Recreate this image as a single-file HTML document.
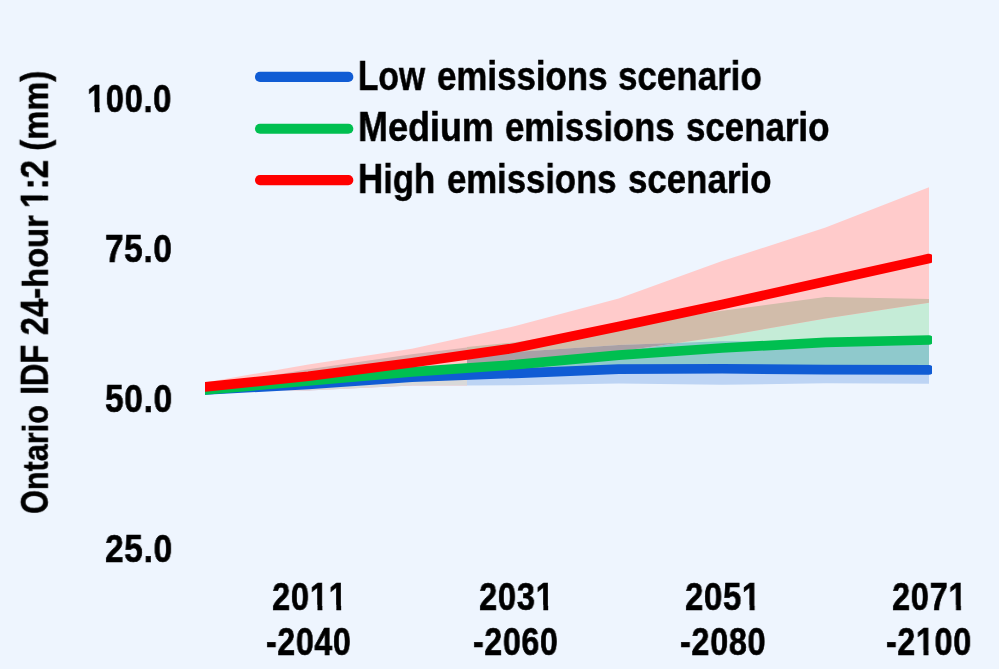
<!DOCTYPE html>
<html><head><meta charset="utf-8"><style>
html,body{margin:0;padding:0;}
body{width:999px;height:669px;overflow:hidden;position:relative;background:#eef5fe;}
.t{position:absolute;font-family:"Liberation Sans",sans-serif;font-weight:bold;line-height:1;white-space:pre;color:#000;transform-origin:0 0;will-change:transform;}
.lc{display:inline-block;transform:scaleY(0.95);transform-origin:0 84.65%;}
.v .lc{transform:scaleY(0.93);}
.one{display:inline-block;height:1em;vertical-align:top;clip-path:polygon(0 0,100% 0,100% 70.5%,67% 70.5%,67% 100%,41% 100%,41% 70.5%,0 70.5%);}
</style></head><body>
<svg width="999" height="669" viewBox="0 0 999 669" style="position:absolute;left:0;top:0">
<defs>
<clipPath id="cg"><polygon points="205.00,389.50 308.43,380.50 411.86,371.40 467.00,367.56 467.01,347.00 515.29,342.30 618.71,326.00 722.14,310.70 825.57,297.10 929.00,299.10 929.00,369.90 825.57,369.70 722.14,368.75 618.71,369.10 515.29,373.30 411.86,380.00 308.43,386.00 205.00,390.00"/></clipPath>
<clipPath id="cb"><polygon points="205.00,391.00 308.43,382.00 411.86,372.90 467.00,369.06 467.01,356.00 515.29,352.00 618.71,344.90 722.14,341.30 825.57,342.00 929.00,340.00 929.00,383.80 825.57,383.30 722.14,384.80 618.71,383.60 515.29,385.30 467.00,385.39 411.86,385.50 308.43,390.60 205.00,390.00"/></clipPath>
<clipPath id="pa"><rect x="205" y="0" width="727" height="669"/></clipPath>
</defs>
<polygon points="205.00,391.00 308.43,382.00 411.86,372.90 467.00,369.06 467.01,356.00 515.29,352.00 618.71,344.90 722.14,341.30 825.57,342.00 929.00,340.00 929.00,383.80 825.57,383.30 722.14,384.80 618.71,383.60 515.29,385.30 467.00,385.39 411.86,385.50 308.43,390.60 205.00,390.00" fill="#bdd4f4"/>
<polygon points="205.00,389.50 308.43,380.50 411.86,371.40 467.00,367.56 467.01,347.00 515.29,342.30 618.71,326.00 722.14,310.70 825.57,297.10 929.00,299.10 929.00,369.90 825.57,369.70 722.14,368.75 618.71,369.10 515.29,373.30 411.86,380.00 308.43,386.00 205.00,390.00" fill="#c5ecd7"/>
<g clip-path="url(#cb)"><polygon points="205.00,389.50 308.43,380.50 411.86,371.40 467.00,367.56 467.01,347.00 515.29,342.30 618.71,326.00 722.14,310.70 825.57,297.10 929.00,299.10 929.00,369.90 825.57,369.70 722.14,368.75 618.71,369.10 515.29,373.30 411.86,380.00 308.43,386.00 205.00,390.00" fill="#8fc9cc"/></g>
<polygon points="205.00,382.50 308.43,364.50 411.86,348.80 515.29,326.10 618.71,298.40 722.14,261.10 825.57,227.60 929.00,187.20 929.00,302.80 825.57,318.40 722.14,336.60 618.71,351.50 515.29,372.60 467.01,376.62 467.00,385.39 411.86,385.50 308.43,390.60 205.00,390.00" fill="#ffcbcb"/>
<g clip-path="url(#cg)"><polygon points="205.00,382.50 308.43,364.50 411.86,348.80 515.29,326.10 618.71,298.40 722.14,261.10 825.57,227.60 929.00,187.20 929.00,302.80 825.57,318.40 722.14,336.60 618.71,351.50 515.29,372.60 467.01,376.62 467.00,385.39 411.86,385.50 308.43,390.60 205.00,390.00" fill="#d1bcaa"/></g>
<g clip-path="url(#cb)"><polygon points="205.00,382.50 308.43,364.50 411.86,348.80 515.29,326.10 618.71,298.40 722.14,261.10 825.57,227.60 929.00,187.20 929.00,302.80 825.57,318.40 722.14,336.60 618.71,351.50 515.29,372.60 467.01,376.62 467.00,385.39 411.86,385.50 308.43,390.60 205.00,390.00" fill="#d9d9d9"/></g>
<g clip-path="url(#cg)"><g clip-path="url(#cb)"><polygon points="205.00,382.50 308.43,364.50 411.86,348.80 515.29,326.10 618.71,298.40 722.14,261.10 825.57,227.60 929.00,187.20 929.00,302.80 825.57,318.40 722.14,336.60 618.71,351.50 515.29,372.60 467.01,376.62 467.00,385.39 411.86,385.50 308.43,390.60 205.00,390.00" fill="#a8a0a6"/></g></g>
<polygon points="205.00,387.00 308.43,369.20 411.86,354.30 467.00,347.50 467.00,354.89 411.86,362.75 308.43,376.20 205.00,387.00" fill="#d9b2b0"/>
<g clip-path="url(#pa)" fill="none" stroke-width="9.7" stroke-linejoin="round" stroke-linecap="round">
<polyline points="205.00,390.00 308.43,384.30 411.86,377.25 515.29,373.30 618.71,369.10 722.14,368.75 825.57,369.70 929.00,369.90" stroke="#105cd4"/>
<polyline points="205.00,390.00 308.43,381.00 411.86,371.90 515.29,364.70 618.71,355.20 722.14,348.00 825.57,342.30 929.00,340.00" stroke="#00bf50"/>
<path d="M205.00,387.00 L308.43,376.20 L411.86,362.75 L507.29,349.14 Q515.29,348.00 523.29,346.34 L618.71,326.50 L722.14,304.40 L825.57,281.60 L929.00,258.60" stroke="#ff0000"/>
</g>
<g stroke-width="10.1" stroke-linecap="round">
<line x1="260" y1="76.9" x2="348.3" y2="76.9" stroke="#105cd4"/>
<line x1="260" y1="128.8" x2="348.3" y2="128.8" stroke="#00bf50"/>
<line x1="260" y1="180.1" x2="348.3" y2="180.1" stroke="#ff0000"/>
</g>
</svg>
<div class="t" style="font-size:42.75px;letter-spacing:0px;-webkit-text-stroke:0.5px #000;left:358.05px;top:53.81px;transform:scaleX(0.7843);">L<span class="lc">ow</span></div>
<div class="t" style="font-size:42.75px;letter-spacing:0px;-webkit-text-stroke:0.5px #000;left:437.28px;top:53.81px;transform:scaleX(0.8155);"><span class="lc">emissions</span></div>
<div class="t" style="font-size:42.75px;letter-spacing:0px;-webkit-text-stroke:0.5px #000;left:618.18px;top:53.81px;transform:scaleX(0.8179);"><span class="lc">scenario</span></div>
<div class="t" style="font-size:42.75px;letter-spacing:0px;-webkit-text-stroke:0.5px #000;left:358.48px;top:105.01px;transform:scaleX(0.8410);">M<span class="lc">edium</span></div>
<div class="t" style="font-size:42.75px;letter-spacing:0px;-webkit-text-stroke:0.5px #000;left:505.19px;top:105.01px;transform:scaleX(0.8111);"><span class="lc">emissions</span></div>
<div class="t" style="font-size:42.75px;letter-spacing:0px;-webkit-text-stroke:0.5px #000;left:686.28px;top:105.01px;transform:scaleX(0.8156);"><span class="lc">scenario</span></div>
<div class="t" style="font-size:42.75px;letter-spacing:0px;-webkit-text-stroke:0.5px #000;left:357.66px;top:157.01px;transform:scaleX(0.8133);">H<span class="lc">igh</span></div>
<div class="t" style="font-size:42.75px;letter-spacing:0px;-webkit-text-stroke:0.5px #000;left:447.49px;top:157.01px;transform:scaleX(0.8106);"><span class="lc">emissions</span></div>
<div class="t" style="font-size:42.75px;letter-spacing:0px;-webkit-text-stroke:0.5px #000;left:628.18px;top:157.01px;transform:scaleX(0.8156);"><span class="lc">scenario</span></div>
<div class="t" style="font-size:38px;letter-spacing:0.7px;-webkit-text-stroke:0.6px #000;left:87.08px;top:80.00px;transform:scaleX(0.8611);"><span class="one">1</span>00.0</div>
<div class="t" style="font-size:38px;letter-spacing:0.7px;-webkit-text-stroke:0.6px #000;left:104.92px;top:230.30px;transform:scaleX(0.8784);">75.0</div>
<div class="t" style="font-size:38px;letter-spacing:0.7px;-webkit-text-stroke:0.6px #000;left:104.62px;top:380.00px;transform:scaleX(0.8824);">50.0</div>
<div class="t" style="font-size:38px;letter-spacing:0.7px;-webkit-text-stroke:0.6px #000;left:104.62px;top:530.00px;transform:scaleX(0.8824);">25.0</div>
<div class="t" style="font-size:38px;letter-spacing:0.7px;-webkit-text-stroke:0.6px #000;left:272.34px;top:578.30px;transform:scaleX(0.8633);">20<span class="one">1</span><span class="one">1</span></div>
<div class="t" style="font-size:38px;letter-spacing:0.7px;-webkit-text-stroke:0.6px #000;left:266.15px;top:622.80px;transform:scaleX(0.8490);">-2040</div>
<div class="t" style="font-size:38px;letter-spacing:0.7px;-webkit-text-stroke:0.6px #000;left:479.04px;top:578.30px;transform:scaleX(0.8633);">203<span class="one">1</span></div>
<div class="t" style="font-size:38px;letter-spacing:0.7px;-webkit-text-stroke:0.6px #000;left:473.05px;top:622.80px;transform:scaleX(0.8490);">-2060</div>
<div class="t" style="font-size:38px;letter-spacing:0.7px;-webkit-text-stroke:0.6px #000;left:685.33px;top:578.30px;transform:scaleX(0.8684);">205<span class="one">1</span></div>
<div class="t" style="font-size:38px;letter-spacing:0.7px;-webkit-text-stroke:0.6px #000;left:679.54px;top:622.80px;transform:scaleX(0.8561);">-2080</div>
<div class="t" style="font-size:38px;letter-spacing:0.7px;-webkit-text-stroke:0.6px #000;left:892.04px;top:578.30px;transform:scaleX(0.8595);">207<span class="one">1</span></div>
<div class="t" style="font-size:38px;letter-spacing:0.7px;-webkit-text-stroke:0.6px #000;left:885.95px;top:622.80px;transform:scaleX(0.8510);">-2<span class="one">1</span>00</div>
<div class="t v" style="font-size:38px;letter-spacing:0px;-webkit-text-stroke:0.5px #000;left:0;top:0;transform:translate(15.82px,513.91px) rotate(-90deg) scaleX(0.8053);">O<span class="lc">ntario</span></div>
<div class="t v" style="font-size:38px;letter-spacing:0px;-webkit-text-stroke:0.5px #000;left:0;top:0;transform:translate(15.82px,394.73px) rotate(-90deg) scaleX(0.8172);">IDF</div>
<div class="t v" style="font-size:38px;letter-spacing:0px;-webkit-text-stroke:0.5px #000;left:0;top:0;transform:translate(15.82px,335.26px) rotate(-90deg) scaleX(0.8623);">24-<span class="lc">hour</span></div>
<div class="t v" style="font-size:38px;letter-spacing:0px;-webkit-text-stroke:0.5px #000;left:0;top:0;transform:translate(15.82px,208.05px) rotate(-90deg) scaleX(0.8769);"><span class="one">1</span>:2</div>
<div class="t v" style="font-size:38px;letter-spacing:0px;-webkit-text-stroke:0.5px #000;left:0;top:0;transform:translate(15.82px,150.72px) rotate(-90deg) scaleX(0.8607);">(<span class="lc">mm</span>)</div>
</body></html>
